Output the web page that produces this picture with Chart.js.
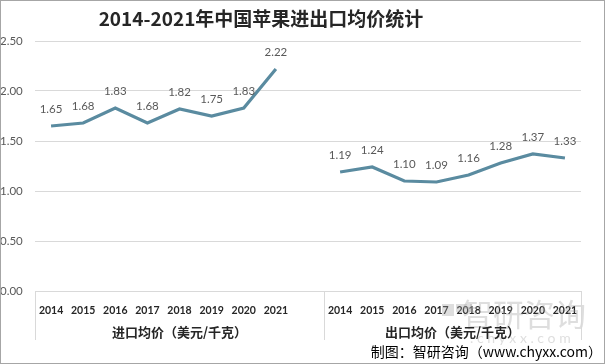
<!DOCTYPE html>
<html>
<head>
<meta charset="utf-8">
<script src="https://cdn.jsdelivr.net/npm/chart.js@4.4.1/dist/chart.umd.min.js"></script>
<style>
  html, body { margin: 0; padding: 0; background: #fff; }
  #wrap { width: 605px; height: 364px; position: relative; }
</style>
</head>
<body>
<div id="wrap"><canvas id="myChart" width="605" height="364"></canvas></div>
<script>
// data
const years = ['2014', '2015', '2016', '2017', '2018', '2019', '2020', '2021'];
const importPrice = [1.65, 1.68, 1.83, 1.68, 1.82, 1.75, 1.83, 2.22];
const exportPrice = [1.19, 1.24, 1.10, 1.09, 1.16, 1.28, 1.37, 1.33];
const groupNames = ['进口均价（美元/千克）', '出口均价（美元/千克）'];
const yTicks = [0, 0.5, 1, 1.5, 2, 2.5];

// one blank slot between the two groups, like the excel sheet
const labels = years.concat(['']).concat(years);
const values = importPrice.concat([null]).concat(exportPrice);

const CJK = '"Noto Sans CJK SC", sans-serif';
const LAT = 'Lato, "Noto Sans", sans-serif';

const extras = {
  id: 'extras',
  beforeDatasetsDraw(chart) {
    // faint watermark sits under the line
    const ctx = chart.ctx;
    ctx.save();
    ctx.fillStyle = 'rgba(160,160,160,0.35)';
    ctx.textBaseline = 'middle';
    ctx.fillRect(442, 304, 12, 12);
    ctx.fillRect(456, 304, 16, 8);
    ctx.font = '31px ' + CJK;
    ctx.textAlign = 'left';
    ctx.fillText('智研咨询', 462, 314);
    ctx.font = '14px ' + LAT;
    ctx.fillText('. c h y x x . c o m', 470, 338);
    ctx.restore();
  },
  afterDraw(chart) {
    const ctx = chart.ctx;
    const x = chart.scales.x;
    const area = chart.chartArea;
    ctx.save();

    // title
    ctx.fillStyle = '#262626';
    ctx.font = 'bold 19px ' + CJK;
    ctx.textAlign = 'center';
    ctx.textBaseline = 'middle';
    ctx.fillText('2014-2021年中国苹果进出口均价统计', 261, 19);

    // value labels above points
    const meta = chart.getDatasetMeta(0);
    ctx.font = '11.5px ' + LAT;
    ctx.fillStyle = '#595959';
    meta.data.forEach((pt, i) => {
      if (values[i] == null) return;
      ctx.fillText(values[i].toFixed(2), pt.x, pt.y - 17);
    });

    // group dividers under the axis
    const step = x.getPixelForValue(1) - x.getPixelForValue(0);
    const divs = [area.left, x.getPixelForValue(8) + step / 2, area.right];
    ctx.strokeStyle = '#D9D9D9';
    ctx.lineWidth = 1;
    divs.forEach(d => {
      const px = Math.round(d) + 0.5;
      ctx.beginPath();
      ctx.moveTo(px, area.bottom);
      ctx.lineTo(px, area.bottom + 49);
      ctx.stroke();
    });

    // group names
    ctx.fillStyle = '#262626';
    ctx.font = 'bold 13px ' + CJK;
    ctx.fillText(groupNames[0], (divs[0] + divs[1]) / 2, 332);
    ctx.fillText(groupNames[1], (divs[1] + divs[2]) / 2, 332);

    // source
    ctx.fillStyle = '#000';
    ctx.font = '14px ' + CJK;
    ctx.textAlign = 'right';
    ctx.fillText('制图：智研咨询（www.chyxx.com）', 602, 352);

    // outer frame
    ctx.strokeStyle = '#A6A6A6';
    ctx.strokeRect(0.5, 0.5, 604, 363);
    ctx.restore();
  }
};

const ctx = document.getElementById('myChart').getContext('2d');
const chart = new Chart(ctx, {
  type: 'line',
  data: {
    labels: labels,
    datasets: [{
      data: values,
      borderColor: '#5A8BA0',
      borderWidth: 3.2,
      pointRadius: 0,
      tension: 0,
      spanGaps: false,
      fill: false
    }]
  },
  options: {
    responsive: false,
    animation: false,
    layout: { padding: { top: 41, right: 24, bottom: 0, left: 0 } },
    plugins: {
      legend: { display: false },
      title: { display: false },
      tooltip: { enabled: false }
    },
    scales: {
      x: {
        offset: true,
        grid: { display: false },
        border: { display: true, color: '#D9D9D9' },
        ticks: {
          autoSkip: false,
          maxRotation: 0,
          padding: 5,
          color: '#262626',
          font: { family: LAT, size: 10.5, weight: 'bold' }
        },
        afterFit(scale) { scale.height = 73; }
      },
      y: {
        min: 0,
        max: 2.5,
        afterBuildTicks(scale) { scale.ticks = yTicks.map(v => ({ value: v })); },
        grid: { color: '#D9D9D9', drawTicks: false },
        border: { display: false },
        ticks: {
          crossAlign: 'far',
          padding: 4,
          color: '#595959',
          font: { family: LAT, size: 11.5 },
          callback: v => v.toFixed(2)
        },
        afterFit(scale) { scale.width = 35; }
      }
    }
  },
  plugins: [extras]
});
</script>
</body>
</html>
